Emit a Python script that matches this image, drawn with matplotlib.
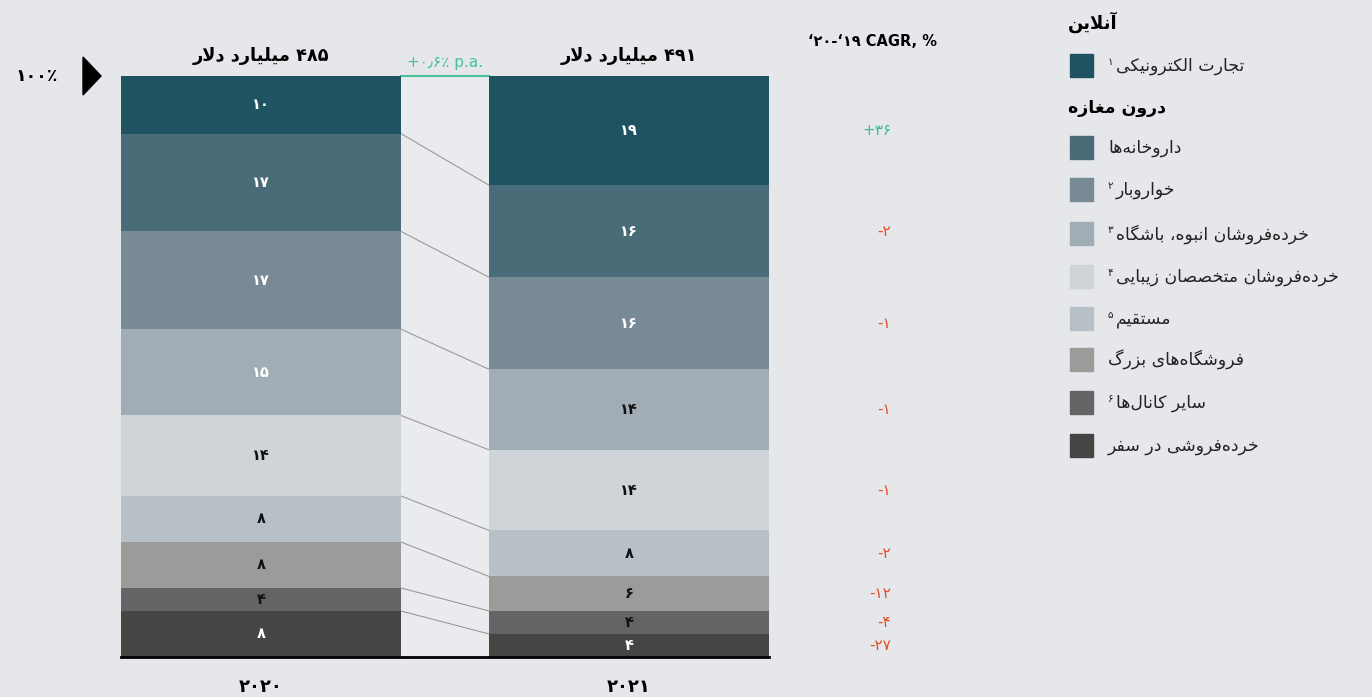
import matplotlib.pyplot as plt
from matplotlib.patches import Rectangle, Polygon

# channel shares (top of stack first)
channels = ['تجارت الکترونیکی', 'داروخانه‌ها', 'خواروبار', 'خرده‌فروشان انبوه، باشگاه',
            'خرده‌فروشان متخصصان زیبایی', 'مستقیم', 'فروشگاه‌های بزرگ', 'سایر کانال‌ها',
            'خرده‌فروشی در سفر']
notes = ['۱', '', '۲', '۳', '۴', '۵', '', '۶', '']
share_2020 = [10, 17, 17, 15, 14, 8, 8, 4, 8]
share_2021 = [19, 16, 16, 14, 14, 8, 6, 4, 4]
cagr = [36, -2, -1, -1, -1, -2, -12, -4, -27]
years = [2020, 2021]
totals = [485, 491]
growth = '+۰٫۶٪ p.a.'
colors = ['#1f5361', '#4a6b78', '#778a95', '#a0adb5', '#cfd4d8', '#b8c0c7',
          '#9b9b99', '#646464', '#454543']
# value label colours inside each column
label_2020 = ['w', 'w', 'w', 'w', 'k', 'k', 'k', 'k', 'w']
label_2021 = ['w', 'w', 'w', 'k', 'k', 'k', 'k', 'k', 'w']

BG = '#e6e7eb'
W, H = 1372, 697

# --- minimal Persian shaping (presentation forms) + visual reordering ---
FORMS = {
    'ا': ('\uFE8D', '\uFE8E', None, None), 'آ': ('\uFE81', '\uFE82', None, None),
    'ب': ('\uFE8F', '\uFE90', '\uFE91', '\uFE92'), 'ت': ('\uFE95', '\uFE96', '\uFE97', '\uFE98'),
    'ج': ('\uFE9D', '\uFE9E', '\uFE9F', '\uFEA0'), 'خ': ('\uFEA5', '\uFEA6', '\uFEA7', '\uFEA8'),
    'د': ('\uFEA9', '\uFEAA', None, None), 'ر': ('\uFEAD', '\uFEAE', None, None),
    'ز': ('\uFEAF', '\uFEB0', None, None), 'س': ('\uFEB1', '\uFEB2', '\uFEB3', '\uFEB4'),
    'ش': ('\uFEB5', '\uFEB6', '\uFEB7', '\uFEB8'), 'ص': ('\uFEB9', '\uFEBA', '\uFEBB', '\uFEBC'),
    'غ': ('\uFECD', '\uFECE', '\uFECF', '\uFED0'), 'ف': ('\uFED1', '\uFED2', '\uFED3', '\uFED4'),
    'ق': ('\uFED5', '\uFED6', '\uFED7', '\uFED8'), 'ل': ('\uFEDD', '\uFEDE', '\uFEDF', '\uFEE0'),
    'م': ('\uFEE1', '\uFEE2', '\uFEE3', '\uFEE4'), 'ن': ('\uFEE5', '\uFEE6', '\uFEE7', '\uFEE8'),
    'ه': ('\uFEE9', '\uFEEA', '\uFEEB', '\uFEEC'), 'و': ('\uFEED', '\uFEEE', None, None),
    'ی': ('\uFBFC', '\uFBFD', '\uFBFE', '\uFBFF'), 'ک': ('\uFB8E', '\uFB8F', '\uFB90', '\uFB91'),
    'گ': ('\uFB92', '\uFB93', '\uFB94', '\uFB95'),
}
LAM_ALEF = {'ا': ('\uFEFB', '\uFEFC'), 'آ': ('\uFEF5', '\uFEF6')}
LTR = set('0123456789۰۱۲۳۴۵۶۷۸۹abcdefghijklmnopqrstuvwxyzABCDEFGHIJKLMNOPQRSTUVWXYZ')


def dual(c):
    return c in FORMS and FORMS[c][2] is not None


def shape(s):
    out = []
    i = 0
    while i < len(s):
        c = s[i]
        if c not in FORMS:
            if c != '\u200c':
                out.append(c)
            i += 1
            continue
        cp = i > 0 and dual(s[i - 1])
        if c == 'ل' and i + 1 < len(s) and s[i + 1] in LAM_ALEF:
            out.append(LAM_ALEF[s[i + 1]][1 if cp else 0])
            i += 2
            continue
        nxt = s[i + 1] if i + 1 < len(s) else ''
        cn = dual(c) and nxt in FORMS
        iso, fin, ini, med = FORMS[c]
        out.append(med if cp and cn else fin if cp else ini if cn else iso)
        i += 1
    return ''.join(out)


def fa(s):
    runs = []
    for ch in shape(s):
        kind = ch in LTR
        if runs and runs[-1][0] == kind:
            runs[-1][1].append(ch)
        else:
            runs.append([kind, [ch]])
    return ''.join(''.join(c if k else c[::-1]) for k, c in reversed(runs))


def fdig(n):
    return str(n).translate(str.maketrans('0123456789', '۰۱۲۳۴۵۶۷۸۹'))


def fx(x):
    return x / W


def fy(y):
    return 1 - y / H


fig = plt.figure(figsize=(W / 100, H / 100), dpi=100, facecolor=BG)
ax = fig.add_axes([fx(121), fy(657), fx(769) - fx(121), fy(76) - fy(657)])
ax.set_facecolor(BG)

bw = 0.76
total = sum(share_2020)
ax.set_xlim(-bw / 2, 1 + bw / 2)
ax.set_ylim(0, total)

# lighter band between the two columns
ax.axvspan(bw / 2, 1 - bw / 2, color='#eaebef', zorder=0, lw=0)
ax.plot([bw / 2, 1 - bw / 2], [total, total], color='#48c09a', lw=1.5, clip_on=False)

for xi, (shares, lab) in enumerate([(share_2020, label_2020), (share_2021, label_2021)]):
    top = sum(shares)
    for val, col, lc in zip(shares, colors, lab):
        ax.bar(xi, val, bottom=top - val, width=bw, color=col, lw=0, zorder=2)
        ax.text(xi, top - val / 2, fdig(val), ha='center', va='center', fontsize=10.5,
                fontweight='bold', color='white' if lc == 'w' else '#111111', zorder=3)
        top -= val

# connectors between segment boundaries
c20 = total
c21 = sum(share_2021)
for a, b in zip(share_2020[:-1], share_2021[:-1]):
    c20 -= a
    c21 -= b
    ax.plot([bw / 2, 1 - bw / 2], [c20, c21], color='#9a9a9a', lw=0.8, zorder=1)

# CAGR column
c21 = sum(share_2021)
for val, g in zip(share_2021, cagr):
    txt = ('+' if g > 0 else '-') + fdig(abs(g))
    ax.text(1.712, c21 - val / 2, txt, ha='right', va='center', fontsize=11,
            color='#3dbf8f' if g > 0 else '#e0502a', clip_on=False)
    c21 -= val

for ax_s in ['top', 'left', 'right']:
    ax.spines[ax_s].set_visible(False)
ax.spines['bottom'].set_linewidth(2)
ax.spines['bottom'].set_color('black')
ax.set_xticks([])
ax.set_yticks([])

# column titles and years
for xi, (yr, tot) in enumerate(zip(years, totals)):
    ax.text(xi, total + 3.4, fa(fdig(tot) + ' میلیارد دلار'), ha='center', va='center',
            fontsize=12.8, fontweight='bold', clip_on=False)
    ax.text(xi, -5.3, fdig(yr), ha='center', va='center', fontsize=13,
            fontweight='bold', clip_on=False)
ax.text(0.5, total + 2.4, growth, ha='center', va='center', fontsize=11,
        color='#48c09a', clip_on=False)

fig.text(fx(937), fy(41), '\u2018۲۰-\u2018۱۹ CAGR, %', ha='right', va='center',
         fontsize=10.5, fontweight='bold')

# 100% marker
fig.text(fx(37), fy(76), '۱۰۰٪', ha='center', va='center', fontsize=12.5, fontweight='bold')
fig.patches.append(Polygon([(fx(83), fy(57)), (fx(101), fy(76)), (fx(83), fy(95))],
                           closed=True, color='black', transform=fig.transFigure))

# legend
fig.text(fx(1068), fy(22), fa('آنلاین'), ha='left', va='center', fontsize=13, fontweight='bold')
fig.text(fx(1068), fy(108), fa('درون مغازه'), ha='left', va='center', fontsize=12.5,
         fontweight='bold')
ys = [66, 148, 190, 234, 277, 319, 360, 403, 446]
for name, note, col, y in zip(channels, notes, colors, ys):
    fig.patches.append(Rectangle((fx(1070), fy(y + 11)), fx(23), 23 / H, color=col,
                                 transform=fig.transFigure))
    x0 = 1108
    if note:
        fig.text(fx(x0), fy(y - 4), note, ha='left', va='center', fontsize=7.5,
                 color='#222222')
        x0 += 8
    fig.text(fx(x0), fy(y), fa(name), ha='left', va='center', fontsize=12.4,
             color='#222222')

fig.savefig('out.png', dpi=100, facecolor=BG)
